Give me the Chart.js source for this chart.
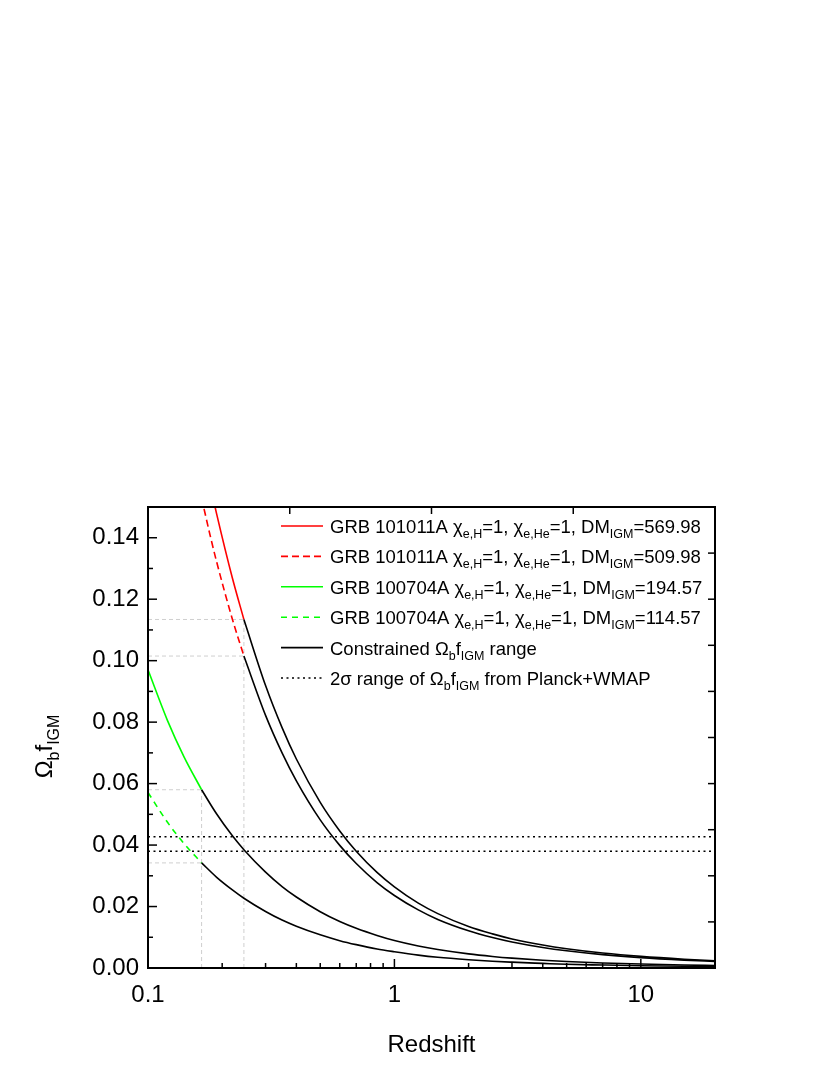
<!DOCTYPE html>
<html>
<head>
<meta charset="utf-8">
<script src="https://cdn.jsdelivr.net/npm/chart.js@4.4.1/dist/chart.umd.min.js"></script>
<style>
  body { margin: 0; background: #fff; }
  #wrap { width: 830px; height: 1075px; }
</style>
</head>
<body>
<div id="wrap"><canvas id="chart" width="830" height="1075"></canvas></div>
<script>
const FONT = '"Liberation Sans", Arial, sans-serif';

// redshift samples for each piece of the curves
const zRedHead = [0.165, 0.18, 0.19, 0.22, 0.245];
const zRedTail = [0.245, 0.3, 0.35, 0.4, 0.5, 0.6, 0.7, 0.85, 1, 1.25, 1.5, 2, 2.5, 3, 4, 5, 7, 10, 15, 20];
const zGreenHead = [0.1, 0.12, 0.14, 0.165];
const zGreenTail = [0.165, 0.19, 0.22, 0.245, 0.3, 0.35, 0.4, 0.5, 0.6, 0.7, 0.85, 1, 1.25, 1.5, 2, 2.5, 3, 4, 5, 7, 10, 15, 20];

// Omega_b f_IGM
const red570Head = [0.1709, 0.1561, 0.1477, 0.1269, 0.1134];
const red570Tail = [0.1134, 0.0919, 0.0782, 0.0680, 0.0539, 0.0446, 0.0380, 0.0311, 0.0264, 0.0211, 0.0177, 0.0135, 0.0111, 0.00946, 0.00746, 0.00625, 0.00486, 0.00377, 0.00287, 0.00238];
const red510Head = [0.1529, 0.1397, 0.1321, 0.1135, 0.1015];
const red510Tail = [0.1015, 0.0822, 0.0700, 0.0609, 0.0482, 0.0399, 0.0340, 0.0278, 0.0236, 0.0189, 0.0158, 0.0121, 0.00991, 0.00846, 0.00667, 0.00560, 0.00435, 0.00337, 0.00257, 0.00213];
const green195Head = [0.0970, 0.0805, 0.0687, 0.0580];
const green195Tail = [0.0580, 0.0501, 0.0430, 0.0385, 0.0312, 0.0265, 0.0231, 0.0183, 0.0151, 0.0129, 0.0106, 0.00895, 0.00717, 0.00601, 0.00459, 0.00376, 0.00321, 0.00253, 0.00212, 0.00165, 0.00128, 0.00097, 0.00081];
const green115Head = [0.0571, 0.0474, 0.0405, 0.0342];
const green115Tail = [0.0342, 0.0295, 0.0254, 0.0227, 0.0184, 0.0156, 0.0136, 0.0108, 0.0089, 0.0076, 0.0062, 0.0053, 0.0042, 0.0035, 0.0027, 0.0022, 0.0019, 0.0015, 0.0012, 0.00097, 0.00075, 0.00057, 0.00048];

const planckRange = [0.0427, 0.0380];

const xMajor = [0.1, 1, 10];
const xTickLabels = ['0.1', '1', '10'];
const xMinor = [0.2, 0.3, 0.4, 0.5, 0.6, 0.7, 0.8, 0.9, 2, 3, 4, 5, 6, 7, 8, 9, 20];
const yMajor = [0, 0.02, 0.04, 0.06, 0.08, 0.10, 0.12, 0.14];
const yMinor = [0.01, 0.03, 0.05, 0.07, 0.09, 0.11, 0.13, 0.15];

const pts = (xs, ys) => xs.map((x, i) => ({ x, y: ys[i] }));
const last = a => a[a.length - 1];

const zRedCut = last(zRedHead);
const zGreenCut = last(zGreenHead);

function curve(data, color, dash, order) {
  return { data, borderColor: color, borderWidth: 1.6, borderDash: dash, pointRadius: 0,
           showLine: true, cubicInterpolationMode: 'monotone', order };
}
function guide(data) {
  return { data, borderColor: '#cfcfcf', borderWidth: 1, borderDash: [4, 3], pointRadius: 0,
           showLine: true, order: 9 };
}

const datasets = [
  curve(pts(zRedTail, red570Tail), '#000', [], 1),
  curve(pts(zRedTail, red510Tail), '#000', [], 1),
  curve(pts(zGreenTail, green195Tail), '#000', [], 1),
  curve(pts(zGreenTail, green115Tail), '#000', [], 1),
  curve(pts(zRedHead, red570Head), '#ff0000', [], 2),
  curve(pts(zRedHead, red510Head), '#ff0000', [7, 4], 2),
  curve(pts(zGreenHead, green195Head), '#00ff00', [], 2),
  curve(pts(zGreenHead, green115Head), '#00ff00', [6, 5], 2),
  ...planckRange.map(v => ({ data: [{ x: 0.1, y: v }, { x: 20, y: v }], borderColor: '#000',
    borderWidth: 1.6, borderDash: [2, 3.5], pointRadius: 0, showLine: true, order: 3 })),
  guide([{ x: 0.1, y: last(red570Head) }, { x: zRedCut, y: last(red570Head) }]),
  guide([{ x: 0.1, y: last(red510Head) }, { x: zRedCut, y: last(red510Head) }]),
  guide([{ x: 0.1, y: last(green195Head) }, { x: zGreenCut, y: last(green195Head) }]),
  guide([{ x: 0.1, y: last(green115Head) }, { x: zGreenCut, y: last(green115Head) }]),
  guide([{ x: zRedCut, y: 0 }, { x: zRedCut, y: last(red570Head) }]),
  guide([{ x: zGreenCut, y: 0 }, { x: zGreenCut, y: last(green195Head) }])
];

// text with subscripts: parts are [text, isSub]
function richWidth(ctx, parts, size, subSize) {
  let w = 0;
  parts.forEach(([t, sub]) => {
    ctx.font = (sub ? subSize : size) + 'px ' + FONT;
    w += ctx.measureText(t).width;
  });
  return w;
}
function drawRich(ctx, x, y, parts, size, subSize, drop) {
  parts.forEach(([t, sub]) => {
    ctx.font = (sub ? subSize : size) + 'px ' + FONT;
    ctx.fillText(t, x, sub ? y + drop : y);
    x += ctx.measureText(t).width;
  });
}

const grb = (name, dm) => [['GRB ' + name + ' '], ['χ'], ['e,H', 1], ['=1, '], ['χ'], ['e,He', 1],
  ['=1, DM'], ['IGM', 1], ['=' + dm]];

const legendRows = [
  { color: '#ff0000', dash: [], parts: grb('101011A', '569.98') },
  { color: '#ff0000', dash: [7, 4], parts: grb('101011A', '509.98') },
  { color: '#00ff00', dash: [], parts: grb('100704A', '194.57') },
  { color: '#00ff00', dash: [6, 5], parts: grb('100704A', '114.57') },
  { color: '#000', dash: [], parts: [['Constrained Ω'], ['b', 1], ['f'], ['IGM', 1], [' range']] },
  { color: '#000', dash: [2, 3.5], parts: [['2σ range of Ω'], ['b', 1], ['f'], ['IGM', 1], [' from Planck+WMAP']] }
];

const decor = {
  id: 'decor',
  beforeDraw(chart) {
    const ctx = chart.ctx;
    ctx.save();
    ctx.fillStyle = '#fff';
    ctx.fillRect(0, 0, chart.width, chart.height);
    ctx.restore();
  },
  afterDraw(chart) {
    const { ctx, chartArea: a, scales: { x, y } } = chart;
    ctx.save();
    ctx.strokeStyle = '#000';
    ctx.lineWidth = 2;
    ctx.strokeRect(a.left, a.top, a.right - a.left, a.bottom - a.top);

    const seg = (x1, y1, x2, y2) => { ctx.beginPath(); ctx.moveTo(x1, y1); ctx.lineTo(x2, y2); ctx.stroke(); };
    ctx.lineWidth = 1.5;
    xMajor.forEach(v => { const p = x.getPixelForValue(v); seg(p, a.bottom, p, a.bottom - 9); });
    xMinor.forEach(v => { const p = x.getPixelForValue(v); seg(p, a.bottom, p, a.bottom - 5); });
    yMajor.forEach(v => { const p = y.getPixelForValue(v); seg(a.left, p, a.left + 9, p); });
    yMinor.forEach(v => { const p = y.getPixelForValue(v); seg(a.left, p, a.left + 5, p); });
    // mirror axes carry their own even divisions
    for (let i = 1; i < 4; i++) {
      const p = a.left + (a.right - a.left) * i / 4;
      seg(p, a.top, p, a.top + 7);
    }
    for (let i = 1; i < 10; i++) {
      const p = a.bottom - (a.bottom - a.top) * i / 10;
      seg(a.right, p, a.right - 7, p);
    }

    // legend
    ctx.fillStyle = '#000';
    ctx.textBaseline = 'alphabetic';
    ctx.textAlign = 'left';
    legendRows.forEach((r, i) => {
      const cy = 526 + i * 30.4;
      ctx.strokeStyle = r.color;
      ctx.lineWidth = 1.6;
      ctx.setLineDash(r.dash);
      seg(281, cy, 323, cy);
      ctx.setLineDash([]);
      drawRich(ctx, 330, cy + 7, r.parts, 18.5, 12.5, 5);
    });

    // axis titles
    ctx.textAlign = 'center';
    ctx.font = '24px ' + FONT;
    ctx.fillText('Redshift', (a.left + a.right) / 2, 1052);

    const yt = [['Ω'], ['b', 1], ['f'], ['IGM', 1]];
    ctx.textAlign = 'left';
    const w = richWidth(ctx, yt, 24, 16);
    ctx.translate(52, (a.top + a.bottom) / 2 + 9);
    ctx.rotate(-Math.PI / 2);
    drawRich(ctx, -w / 2, 0, yt, 24, 16, 7);
    ctx.restore();
  }
};

new Chart(document.getElementById('chart'), {
  type: 'scatter',
  data: { datasets },
  options: {
    responsive: false,
    animation: false,
    layout: { padding: { top: 507, right: 115, left: 0, bottom: 0 } },
    plugins: { legend: { display: false }, tooltip: { enabled: false } },
    scales: {
      x: {
        type: 'logarithmic', min: 0.1, max: 20,
        grid: { display: false, drawTicks: false },
        border: { display: false },
        afterBuildTicks: s => { s.ticks = xMajor.map(v => ({ value: v })); },
        afterFit: s => { s.height = 107; },
        ticks: {
          autoSkip: false, maxRotation: 0, padding: 13, color: '#000',
          font: { family: FONT, size: 24 },
          callback: (v, i) => xTickLabels[i]
        }
      },
      y: {
        type: 'linear', min: 0, max: 0.15,
        grid: { display: false, drawTicks: false },
        border: { display: false },
        afterBuildTicks: s => { s.ticks = yMajor.map(v => ({ value: v })); },
        afterFit: s => { s.width = 148; },
        ticks: {
          padding: 9, color: '#000',
          font: { family: FONT, size: 24 },
          callback: v => Number(v).toFixed(2)
        }
      }
    }
  },
  plugins: [decor]
});
</script>
</body>
</html>
